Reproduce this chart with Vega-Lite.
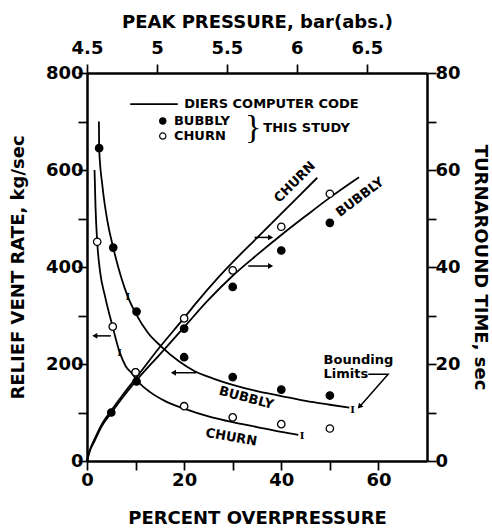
{
  "$schema": "https://vega.github.io/schema/vega-lite/v6.json",
  "width": 340,
  "height": 388,
  "autosize": {"type": "none"},
  "padding": {"left": 87, "top": 73, "right": 65, "bottom": 68},
  "background": "white",
  "config": {
    "font": "DejaVu Sans",
    "view": {"stroke": null},
    "axis": {
      "labelFont": "DejaVu Sans", "labelFontWeight": "bold", "labelFontSize": 18, "labelColor": "black",
      "titleFont": "DejaVu Sans", "titleFontWeight": "bold", "titleFontSize": 18, "titleColor": "black",
      "domainColor": "black", "domainWidth": 2.5, "tickColor": "black", "tickWidth": 1.7, "tickSize": 9, "ticks": true,
      "grid": false, "labelOverlap": false, "labelFlush": false, "zindex": 1
    },
    "text": {"font": "DejaVu Sans", "fontWeight": "bold", "color": "black"}
  },
  "datasets": {
    "vent_curves": [
      {"series": "BUBBLY", "x": 2.45, "y": 700}, {"series": "BUBBLY", "x": 2.5, "y": 645}, {"series": "BUBBLY", "x": 3.2, "y": 565},
      {"series": "BUBBLY", "x": 4.2, "y": 495}, {"series": "BUBBLY", "x": 5.4, "y": 440}, {"series": "BUBBLY", "x": 7, "y": 380},
      {"series": "BUBBLY", "x": 8.4, "y": 339}, {"series": "BUBBLY", "x": 10, "y": 305}, {"series": "BUBBLY", "x": 12.5, "y": 265},
      {"series": "BUBBLY", "x": 15.3, "y": 236}, {"series": "BUBBLY", "x": 19, "y": 205}, {"series": "BUBBLY", "x": 22, "y": 186},
      {"series": "BUBBLY", "x": 26, "y": 170}, {"series": "BUBBLY", "x": 30, "y": 157}, {"series": "BUBBLY", "x": 35, "y": 144},
      {"series": "BUBBLY", "x": 40, "y": 134}, {"series": "BUBBLY", "x": 45, "y": 124}, {"series": "BUBBLY", "x": 50, "y": 116},
      {"series": "BUBBLY", "x": 54, "y": 110},
      {"series": "CHURN", "x": 1.55, "y": 600}, {"series": "CHURN", "x": 1.75, "y": 525}, {"series": "CHURN", "x": 2.1, "y": 452},
      {"series": "CHURN", "x": 2.7, "y": 390}, {"series": "CHURN", "x": 3.7, "y": 340}, {"series": "CHURN", "x": 5.2, "y": 280},
      {"series": "CHURN", "x": 6.7, "y": 225}, {"series": "CHURN", "x": 8.0, "y": 195}, {"series": "CHURN", "x": 9.3, "y": 180},
      {"series": "CHURN", "x": 10.5, "y": 164}, {"series": "CHURN", "x": 13, "y": 142}, {"series": "CHURN", "x": 16, "y": 124},
      {"series": "CHURN", "x": 20, "y": 108}, {"series": "CHURN", "x": 25, "y": 92}, {"series": "CHURN", "x": 30, "y": 80},
      {"series": "CHURN", "x": 35, "y": 70}, {"series": "CHURN", "x": 40, "y": 60}, {"series": "CHURN", "x": 43.5, "y": 54}
    ],
    "vent_points": [
      {"study": "CHURN", "x": 2.1, "y": 452}, {"study": "CHURN", "x": 5.3, "y": 277}, {"study": "CHURN", "x": 10, "y": 183},
      {"study": "CHURN", "x": 20, "y": 113}, {"study": "CHURN", "x": 30, "y": 90}, {"study": "CHURN", "x": 40, "y": 76},
      {"study": "CHURN", "x": 50, "y": 67},
      {"study": "BUBBLY", "x": 2.5, "y": 645}, {"study": "BUBBLY", "x": 5.4, "y": 440}, {"study": "BUBBLY", "x": 10.2, "y": 308},
      {"study": "BUBBLY", "x": 20, "y": 214}, {"study": "BUBBLY", "x": 30, "y": 173}, {"study": "BUBBLY", "x": 40, "y": 147},
      {"study": "BUBBLY", "x": 50, "y": 135}
    ],
    "tt_curves": [
      {"series": "CHURN", "x": 0, "y": 0}, {"series": "CHURN", "x": 0.5, "y": 2}, {"series": "CHURN", "x": 1.6, "y": 4.6},
      {"series": "CHURN", "x": 3, "y": 7.5}, {"series": "CHURN", "x": 5, "y": 10.4}, {"series": "CHURN", "x": 7.5, "y": 13.8},
      {"series": "CHURN", "x": 10, "y": 17}, {"series": "CHURN", "x": 15, "y": 23.5}, {"series": "CHURN", "x": 20, "y": 29.5},
      {"series": "CHURN", "x": 22.5, "y": 32.6}, {"series": "CHURN", "x": 27, "y": 37.8}, {"series": "CHURN", "x": 30, "y": 41},
      {"series": "CHURN", "x": 35, "y": 46}, {"series": "CHURN", "x": 40, "y": 51}, {"series": "CHURN", "x": 47.4, "y": 58.4},
      {"series": "BUBBLY", "x": 0, "y": 0}, {"series": "BUBBLY", "x": 0.5, "y": 1.8}, {"series": "BUBBLY", "x": 1.6, "y": 4.2},
      {"series": "BUBBLY", "x": 3, "y": 7.1}, {"series": "BUBBLY", "x": 5, "y": 9.9}, {"series": "BUBBLY", "x": 7.5, "y": 13.3},
      {"series": "BUBBLY", "x": 10, "y": 16.4}, {"series": "BUBBLY", "x": 15, "y": 22}, {"series": "BUBBLY", "x": 20, "y": 27.6},
      {"series": "BUBBLY", "x": 24.8, "y": 33}, {"series": "BUBBLY", "x": 30, "y": 38.2}, {"series": "BUBBLY", "x": 35, "y": 42.5},
      {"series": "BUBBLY", "x": 40, "y": 46.6}, {"series": "BUBBLY", "x": 45, "y": 50.5}, {"series": "BUBBLY", "x": 50, "y": 54.3},
      {"series": "BUBBLY", "x": 56, "y": 58.5}
    ],
    "tt_points": [
      {"study": "CHURN", "x": 10, "y": 18.3}, {"study": "CHURN", "x": 20, "y": 29.4}, {"study": "CHURN", "x": 30, "y": 39.3},
      {"study": "CHURN", "x": 40, "y": 48.3}, {"study": "CHURN", "x": 50, "y": 55.1},
      {"study": "BUBBLY", "x": 5, "y": 10}, {"study": "BUBBLY", "x": 10.2, "y": 16.4}, {"study": "BUBBLY", "x": 20, "y": 27.3},
      {"study": "BUBBLY", "x": 30, "y": 35.9}, {"study": "BUBBLY", "x": 40, "y": 43.4}, {"study": "BUBBLY", "x": 50, "y": 49.1}
    ],
    "limits": [
      {"x": 8.4, "y": 339}, {"x": 54.7, "y": 106}, {"x": 6.7, "y": 222}, {"x": 44.3, "y": 51}
    ],
    "legend_points": [
      {"study": "BUBBLY", "x": 15.6, "y": 701}, {"study": "CHURN", "x": 15.6, "y": 670}
    ],
    "legend_line": [{"x": 8.9, "x2": 18.7, "y": 736}],
    "legend_text": [
      {"x": 20, "y": 736, "text": "DIERS COMPUTER CODE"},
      {"x": 17.9, "y": 701, "text": "BUBBLY"},
      {"x": 17.9, "y": 670, "text": "CHURN"},
      {"x": 36.3, "y": 686, "text": "THIS STUDY"}
    ],
    "brace": [{"x": 34.2, "y": 686, "text": "}"}],
    "bounding_text": [
      {"x": 48.7, "y": 208, "text": "Bounding"},
      {"x": 48.7, "y": 179, "text": "Limits"}
    ],
    "bounding_line": [
      {"step": 1, "x": 57.9, "y": 179}, {"step": 2, "x": 62, "y": 179}, {"step": 3, "x": 56.3, "y": 114}
    ],
    "bounding_head": [{"x": 56.1, "y": 112}],
    "left_arrows": [
      {"x": 1.6, "x2": 4.9, "y": 258}, {"x": 17.8, "x2": 22.5, "y": 182}
    ],
    "right_arrows": [
      {"x": 34.5, "x2": 37.8, "y": 461}, {"x": 33.2, "x2": 37.8, "y": 402}
    ],
    "label_bubbly_vent": [{"x": 32.8, "y": 130, "text": "BUBBLY"}],
    "label_churn_vent": [{"x": 29.7, "y": 49, "text": "CHURN"}],
    "label_churn_tt": [{"x": 42.8, "y": 575, "text": "CHURN"}],
    "label_bubbly_tt": [{"x": 56.2, "y": 544, "text": "BUBBLY"}],
    "top_axis": [{"p": 4.5}, {"p": 6.93}]
  },
  "layer": [
    {
      "layer": [
        {
          "data": {"name": "vent_curves"},
          "mark": {"type": "line", "interpolate": "monotone", "color": "black", "strokeWidth": 1.8},
          "encoding": {
            "x": {"field": "x", "type": "quantitative", "scale": {"domain": [0, 70], "nice": false, "zero": false},
              "axis": {"orient": "bottom", "title": "PERCENT OVERPRESSURE", "values": [0, 10, 20, 30, 40, 50, 60],
                "labelExpr": "datum.value % 20 == 0 ? datum.label : ''", "labelPadding": 1, "titlePadding": 20,
                "encode": {"ticks": {"enter": {"y2": {"value": -9}}, "update": {"y2": {"value": -9}}}}}},
            "y": {"field": "y", "type": "quantitative", "scale": {"domain": [0, 800], "nice": false},
              "axis": {"orient": "left", "title": "RELIEF VENT RATE, kg/sec", "values": [0, 100, 200, 300, 400, 500, 600, 700, 800],
                "labelExpr": "datum.value % 200 == 0 ? datum.label : ''", "labelPadding": -5, "titlePadding": 18,
                "encode": {"ticks": {"enter": {"x2": {"value": 9}}, "update": {"x2": {"value": 9}}}}}},
            "detail": {"field": "series"}
          }
        },
        {
          "data": {"name": "vent_points"},
          "mark": {"type": "point", "filled": true, "size": 55, "stroke": "black", "strokeWidth": 1.3, "opacity": 1},
          "encoding": {
            "x": {"field": "x", "type": "quantitative"},
            "y": {"field": "y", "type": "quantitative"},
            "fill": {"field": "study", "type": "nominal", "scale": {"domain": ["BUBBLY", "CHURN"], "range": ["black", "white"]}, "legend": null}
          }
        },
        {
          "data": {"name": "limits"},
          "mark": {"type": "text", "text": "I", "font": "DejaVu Serif", "fontSize": 10, "fontWeight": "bold", "baseline": "middle"},
          "encoding": {"x": {"field": "x", "type": "quantitative"}, "y": {"field": "y", "type": "quantitative"}}
        },
        {
          "data": {"name": "legend_line"},
          "mark": {"type": "rule", "color": "black", "strokeWidth": 1.8},
          "encoding": {"x": {"field": "x", "type": "quantitative"}, "x2": {"field": "x2"}, "y": {"field": "y", "type": "quantitative"}}
        },
        {
          "data": {"name": "legend_points"},
          "mark": {"type": "point", "filled": true, "size": 40, "stroke": "black", "strokeWidth": 1.2, "opacity": 1},
          "encoding": {
            "x": {"field": "x", "type": "quantitative"},
            "y": {"field": "y", "type": "quantitative"},
            "fill": {"field": "study", "type": "nominal", "legend": null}
          }
        },
        {
          "data": {"name": "legend_text"},
          "mark": {"type": "text", "fontSize": 13, "align": "left", "baseline": "middle"},
          "encoding": {"x": {"field": "x", "type": "quantitative"}, "y": {"field": "y", "type": "quantitative"}, "text": {"field": "text"}}
        },
        {
          "data": {"name": "brace"},
          "mark": {"type": "text", "font": "Liberation Serif", "fontSize": 34, "fontWeight": "normal", "align": "center", "baseline": "middle"},
          "encoding": {"x": {"field": "x", "type": "quantitative"}, "y": {"field": "y", "type": "quantitative"}, "text": {"field": "text"}}
        },
        {
          "data": {"name": "bounding_text"},
          "mark": {"type": "text", "fontSize": 13, "align": "left", "baseline": "middle"},
          "encoding": {"x": {"field": "x", "type": "quantitative"}, "y": {"field": "y", "type": "quantitative"}, "text": {"field": "text"}}
        },
        {
          "data": {"name": "bounding_line"},
          "mark": {"type": "line", "color": "black", "strokeWidth": 1.5},
          "encoding": {"x": {"field": "x", "type": "quantitative"}, "y": {"field": "y", "type": "quantitative"}, "order": {"field": "step"}}
        },
        {
          "data": {"name": "bounding_head"},
          "mark": {"type": "point", "shape": "triangle-up", "angle": 222, "filled": true, "color": "black", "size": 35, "opacity": 1},
          "encoding": {"x": {"field": "x", "type": "quantitative"}, "y": {"field": "y", "type": "quantitative"}}
        },
        {
          "data": {"name": "left_arrows"},
          "mark": {"type": "rule", "color": "black", "strokeWidth": 1.5},
          "encoding": {"x": {"field": "x", "type": "quantitative"}, "x2": {"field": "x2"}, "y": {"field": "y", "type": "quantitative"}}
        },
        {
          "data": {"name": "left_arrows"},
          "mark": {"type": "point", "shape": "triangle-left", "filled": true, "color": "black", "size": 35, "opacity": 1},
          "encoding": {"x": {"field": "x", "type": "quantitative"}, "y": {"field": "y", "type": "quantitative"}}
        },
        {
          "data": {"name": "right_arrows"},
          "mark": {"type": "rule", "color": "black", "strokeWidth": 1.5},
          "encoding": {"x": {"field": "x", "type": "quantitative"}, "x2": {"field": "x2"}, "y": {"field": "y", "type": "quantitative"}}
        },
        {
          "data": {"name": "right_arrows"},
          "mark": {"type": "point", "shape": "triangle-right", "filled": true, "color": "black", "size": 35, "opacity": 1},
          "encoding": {"x": {"field": "x2", "type": "quantitative"}, "y": {"field": "y", "type": "quantitative"}}
        },
        {
          "data": {"name": "label_bubbly_vent"},
          "mark": {"type": "text", "fontSize": 13, "angle": 15, "baseline": "middle"},
          "encoding": {"x": {"field": "x", "type": "quantitative"}, "y": {"field": "y", "type": "quantitative"}, "text": {"field": "text"}}
        },
        {
          "data": {"name": "label_churn_vent"},
          "mark": {"type": "text", "fontSize": 13, "angle": 10, "baseline": "middle"},
          "encoding": {"x": {"field": "x", "type": "quantitative"}, "y": {"field": "y", "type": "quantitative"}, "text": {"field": "text"}}
        },
        {
          "data": {"name": "label_churn_tt"},
          "mark": {"type": "text", "fontSize": 13, "angle": -45, "baseline": "middle"},
          "encoding": {"x": {"field": "x", "type": "quantitative"}, "y": {"field": "y", "type": "quantitative"}, "text": {"field": "text"}}
        },
        {
          "data": {"name": "label_bubbly_tt"},
          "mark": {"type": "text", "fontSize": 13, "angle": -37, "baseline": "middle"},
          "encoding": {"x": {"field": "x", "type": "quantitative"}, "y": {"field": "y", "type": "quantitative"}, "text": {"field": "text"}}
        }
      ]
    },
    {
      "layer": [
        {
          "data": {"name": "tt_curves"},
          "mark": {"type": "line", "interpolate": "monotone", "color": "black", "strokeWidth": 1.8},
          "encoding": {
            "x": {"field": "x", "type": "quantitative", "scale": {"domain": [0, 70], "nice": false, "zero": false}, "axis": null},
            "y": {"field": "y", "type": "quantitative", "scale": {"domain": [0, 80], "nice": false},
              "axis": {"orient": "right", "title": "TURNAROUND TIME, sec", "values": [0, 10, 20, 30, 40, 50, 60, 70, 80],
                "labelExpr": "datum.value % 20 == 0 ? datum.label : ''", "labelPadding": -1, "titlePadding": 10,
                "encode": {"ticks": {"enter": {"x2": {"value": -9}}, "update": {"x2": {"value": -9}}}}}},
            "detail": {"field": "series"}
          }
        },
        {
          "data": {"name": "tt_points"},
          "mark": {"type": "point", "filled": true, "size": 55, "stroke": "black", "strokeWidth": 1.3, "opacity": 1},
          "encoding": {
            "x": {"field": "x", "type": "quantitative"},
            "y": {"field": "y", "type": "quantitative"},
            "fill": {"field": "study", "type": "nominal", "scale": {"domain": ["BUBBLY", "CHURN"], "range": ["black", "white"]}, "legend": null}
          }
        }
      ]
    },
    {
      "data": {"name": "top_axis"},
      "mark": {"type": "point", "opacity": 0},
      "encoding": {
        "x": {"field": "p", "type": "quantitative", "scale": {"domain": [4.5, 6.93], "nice": false, "zero": false},
          "axis": {"orient": "top", "title": "PEAK PRESSURE, bar(abs.)", "values": [4.5, 5, 5.5, 6, 6.5], "format": "~g",
            "labelPadding": 7, "titlePadding": 8,
            "encode": {"ticks": {"enter": {"y2": {"value": 9}}, "update": {"y2": {"value": 9}}}}}}
      }
    }
  ],
  "resolve": {"scale": {"x": "independent", "y": "independent", "fill": "shared"}}
}
